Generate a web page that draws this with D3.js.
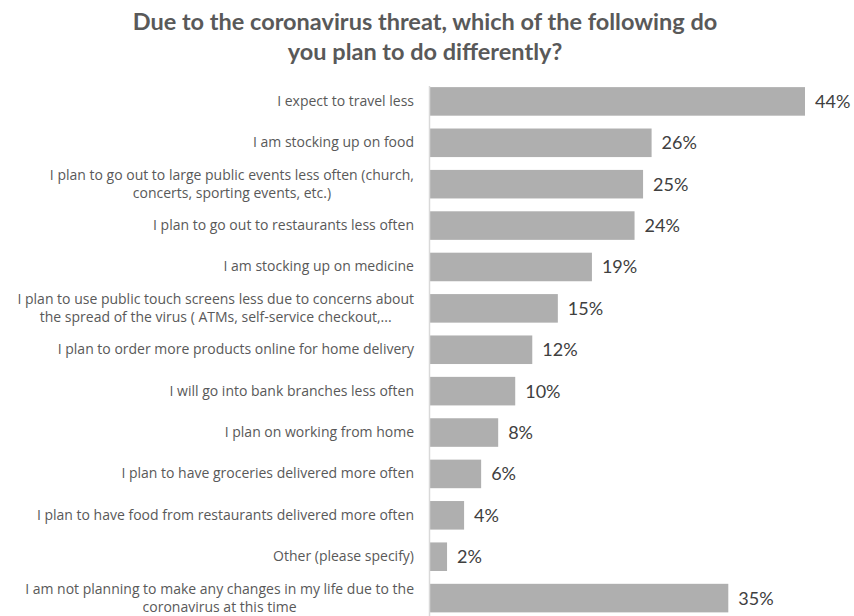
<!DOCTYPE html>
<html>
<head>
<meta charset="utf-8">
<script src="https://cdn.jsdelivr.net/npm/d3@7"></script>
<style>
    body { margin: 0; background: #fff; }
    svg text { font-family: Lato, "Open Sans", sans-serif; }
</style>
</head>
<body>
<svg id="chart"></svg>
<script>
// survey answers, top to bottom (multi-line labels split with |)
const answers = [
    "I expect to travel less",
    "I am stocking up on food",
    "I plan to go out to large public events less often (church,|concerts, sporting events, etc.)",
    "I plan to go out to restaurants less often",
    "I am stocking up on medicine",
    "I plan to use public touch screens less due to concerns about|the spread of the virus ( ATMs, self-service checkout,...",
    "I plan to order more products online for home delivery",
    "I will go into bank branches less often",
    "I plan on working from home",
    "I plan to have groceries delivered more often",
    "I plan to have food from restaurants delivered more often",
    "Other (please specify)",
    "I am not planning to make any changes in my life due to the|coronavirus at this time"
];
const shares = [44, 26, 25, 24, 19, 15, 12, 10, 8, 6, 4, 2, 35];
const titleLines = [
    "Due to the coronavirus threat, which of the following do",
    "you plan to do differently?"
];

const width = 854, height = 616;
const svg = d3.select("#chart").attr("width", width).attr("height", height);

// title
svg.append("g").selectAll("text")
    .data(titleLines)
    .join("text")
    .attr("x", 425)
    .attr("y", (d, i) => 30 + i * 30)
    .attr("text-anchor", "middle")
    .style("font-size", "23.5px")
    .style("font-weight", "bold")
    .attr("fill", "#595959")
    .text(d => d);

let x = d3.scaleLinear().domain([0, 44]).range([430, 805]);
let y = d3.scaleBand().domain(answers).range([80.5, 619]).paddingInner(0.31).paddingOuter(0.16);

// bars
svg.append("g").selectAll("rect")
    .data(answers)
    .join("rect")
    .attr("x", x(0))
    .attr("y", d => y(d))
    .attr("width", (d, i) => x(shares[i]) - x(0))
    .attr("height", y.bandwidth())
    .attr("fill", "#afafaf");

// category axis line
svg.append("line")
    .attr("x1", 429.5).attr("x2", 429.5)
    .attr("y1", 86).attr("y2", 616)
    .attr("stroke", "#d9d9d9")
    .attr("stroke-width", 1.5);

// category labels: block is right aligned, lines centred within the block
let labels = svg.append("g").selectAll("text")
    .data(answers)
    .join("text")
    .attr("text-anchor", "middle")
    .attr("fill", "#595959")
    .style("font-family", "'Open Sans', sans-serif")
    .style("font-size", "14px");

labels.each(function(d) {
    let lines = d.split("|");
    let cy = y(d) + y.bandwidth() / 2;
    let t = d3.select(this);
    let spans = lines.map((ln, i) => t.append("tspan")
        .attr("y", cy + 4.5 + (i - (lines.length - 1) / 2) * 18)
        .text(ln));
    let maxW = d3.max(spans, s => s.node().getComputedTextLength());
    spans.forEach(s => s.attr("x", 414 - maxW / 2));
});

// value labels
svg.append("g").selectAll("text")
    .data(answers)
    .join("text")
    .attr("x", (d, i) => x(shares[i]) + 10)
    .attr("y", d => y(d) + y.bandwidth() / 2 + 6.5)
    .attr("fill", "#404040")
    .style("font-size", "18px")
    .text((d, i) => shares[i] + "%");
</script>
</body>
</html>
